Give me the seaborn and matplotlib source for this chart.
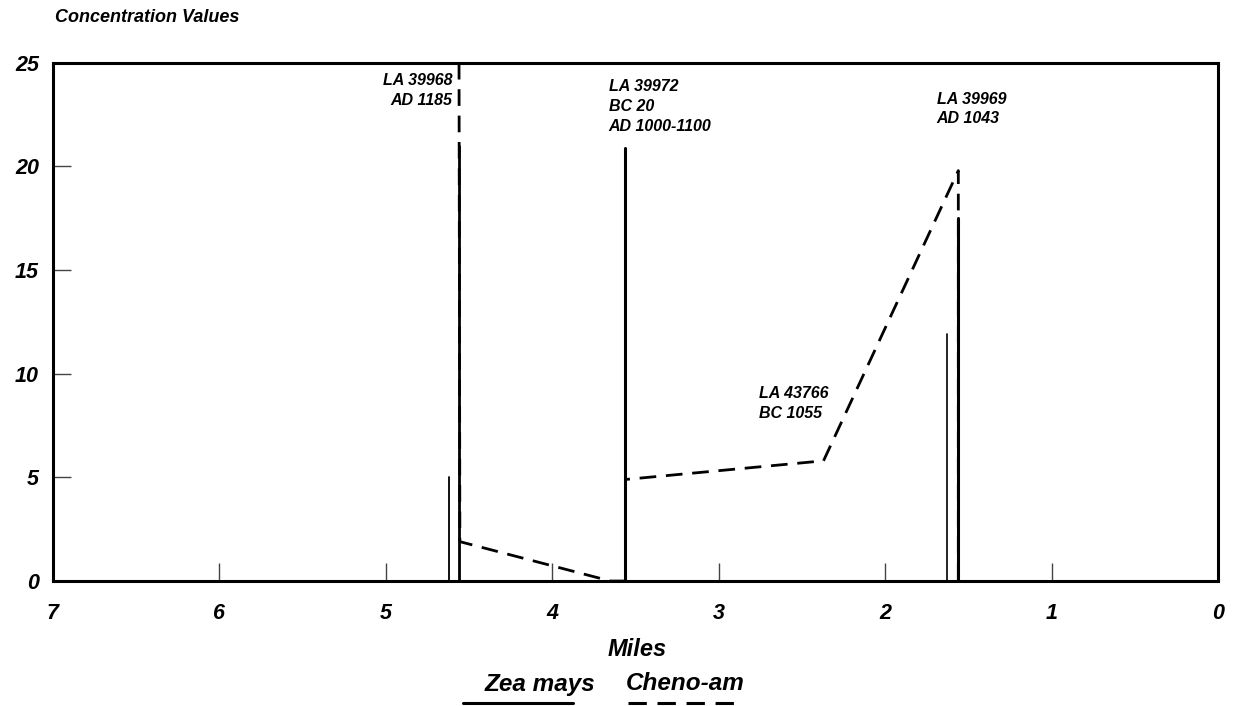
import matplotlib
matplotlib.use("Agg")
import matplotlib.pyplot as plt
from matplotlib.lines import Line2D
import seaborn as sns
import pandas as pd
import numpy as np

# ---- data ----
zea_miles = [4.62, 4.56, 3.56, 1.63, 1.56]
zea_values = [5.0, 21.0, 20.9, 11.9, 17.5]
zea_widths = [1.3, 2.0, 2.2, 1.2, 2.2]

cheno_miles = [4.56, 4.555, 3.65, 3.56, 3.56, 2.37, 1.56, 1.56]
cheno_values = [25.0, 1.9, 0.0, 0.0, 4.9, 5.8, 19.8, 0.0]

site_labels = ["LA 39968\nAD 1185", "LA 39972\nBC 20\nAD 1000-1100",
               "LA 39969\nAD 1043", "LA 43766\nBC 1055"]
site_label_miles = [4.60, 3.66, 1.69, 2.76]
site_label_values = [24.5, 24.2, 23.6, 9.4]
site_label_align = ["right", "left", "left", "left"]

x_ticks = [7, 6, 5, 4, 3, 2, 1, 0]
y_ticks = [0, 5, 10, 15, 20, 25]

sns.set_theme(style="white")
plt.rcParams['font.family'] = ['Liberation Sans', 'DejaVu Sans']
plt.rcParams['text.color'] = 'black'
plt.rcParams['xtick.color'] = 'black'
plt.rcParams['ytick.color'] = 'black'

fig = plt.figure(figsize=(12.37, 7.06), dpi=100)
ax = fig.add_axes([0.0428, 0.177, 0.9418, 0.734])

# Zea mays spikes
zea_df = pd.DataFrame({
    "miles": np.repeat(zea_miles, 2),
    "value": np.ravel([[0, v] for v in zea_values]),
    "spike": np.repeat(np.arange(len(zea_miles)), 2),
})
for i, w in enumerate(zea_widths):
    sub = zea_df[zea_df["spike"] == i]
    sns.lineplot(data=sub, x="miles", y="value", sort=False, estimator=None,
                 color="black", lw=w, ax=ax)

# Cheno-am dashed line
cheno_df = pd.DataFrame({"miles": cheno_miles, "value": cheno_values})
sns.lineplot(data=cheno_df, x="miles", y="value", sort=False, estimator=None,
             color="black", lw=2.0, dashes=False, ax=ax)
ax.lines[-1].set_dashes((6, 3.5))

for lab, xm, yv, ha in zip(site_labels, site_label_miles, site_label_values, site_label_align):
    ax.text(xm, yv, lab, ha=ha, va="top", fontsize=11.5, fontweight="bold",
            fontstyle="italic", linespacing=1.38, color="black")

ax.set_xlim(7, 0)
ax.set_ylim(0, 25)
ax.set_xticks(x_ticks)
ax.set_yticks(y_ticks)
ax.set_xticklabels([str(t) for t in x_ticks], fontsize=15.5, fontweight="bold", fontstyle="italic")
ax.set_yticklabels([str(t) for t in y_ticks], fontsize=15.5, fontweight="bold", fontstyle="italic")
ax.tick_params(axis="both", direction="in", length=13, width=1,
               left=True, bottom=True)
ax.tick_params(axis="x", pad=16, color="#444444")
ax.tick_params(axis="y", pad=10, color="#444444")
ax.set_xlabel("")
ax.set_ylabel("")
for s in ax.spines.values():
    s.set_visible(True)
    s.set_color("black")
    s.set_linewidth(2.2)

fig.text(55 / 1237, 1 - 18 / 706, "Concentration Values", ha="left", va="center",
         fontsize=13, fontweight="bold", fontstyle="italic")
fig.text(637 / 1237, 1 - 649 / 706, "Miles", ha="center", va="center",
         fontsize=17, fontweight="bold", fontstyle="italic")

# legend
fig.text(540 / 1237, 1 - 684 / 706, "Zea mays", ha="center", va="center",
         fontsize=17.5, fontweight="bold", fontstyle="italic")
fig.text(685 / 1237, 1 - 684 / 706, "Cheno-am", ha="center", va="center",
         fontsize=17.5, fontweight="bold", fontstyle="italic")
fig.add_artist(Line2D([463 / 1237, 573 / 1237], [1 - 703 / 706] * 2,
                      transform=fig.transFigure, color="black", lw=2.2))
fig.add_artist(Line2D([628 / 1237, 735 / 1237], [1 - 703 / 706] * 2,
                      transform=fig.transFigure, color="black", lw=2.2, dashes=(6, 3.5)))

fig.savefig("out.png", dpi=100, facecolor="white")
